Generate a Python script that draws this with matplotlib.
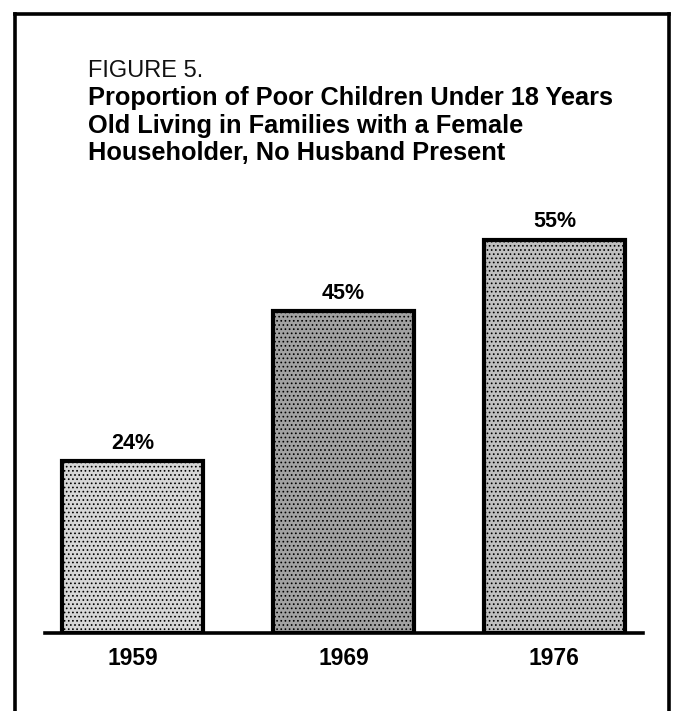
"""
Figure 5 - poor children in female-householder families
"""

import matplotlib.pyplot as plt
from matplotlib.lines import Line2D

plt.rcParams.update(
    {
        "font.family": ["Liberation Sans", "DejaVu Sans"],
        "figure.dpi": 100,
        "hatch.color": "#4a4a4a",
        "hatch.linewidth": 0.7,
    }
)

years = ["1959", "1969", "1976"]
shares = [24, 45, 55]
labels = ["24%", "45%", "55%"]
fills = ["#d6d6d6", "#a2a2a2", "#bfbfbf"]

W, H = 674, 711
fig = plt.figure(figsize=(W / 100, H / 100), facecolor="white")


def fx(px):
    return px / W


def fy(py):
    return 1 - py / H


# frame around the figure (open at the bottom)
for xs, ys in [((15, 669), (14, 14)), ((15, 15), (14, H)), ((669, 669), (14, H))]:
    fig.add_artist(Line2D([fx(x) for x in xs], [fy(y) for y in ys], color="black", lw=2.6,
                          solid_capstyle="projecting"))

fig.text(fx(88), fy(77), "FIGURE 5.", fontsize=17, color="#111111", va="baseline")
title_lines = [
    "Proportion of Poor Children Under 18 Years",
    "Old Living in Families with a Female",
    "Householder, No Husband Present",
]
for line, base in zip(title_lines, [105, 133, 160]):
    fig.text(fx(88), fy(base), line, fontsize=18.3, fontweight="bold", va="baseline")

ax = fig.add_axes([fx(45), fy(633), fx(643) - fx(45), fy(204) - fy(633)])
x = range(len(years))
ax.bar(x, shares, width=0.665, color=fills, edgecolor="black", linewidth=3,
       hatch="....", zorder=2)

for xi, v, lab in zip(x, shares, labels):
    ax.annotate(lab, (xi, v), textcoords="offset points", xytext=(0, 9), ha="center",
                va="baseline", fontsize=15.5, fontweight="bold")

ax.set_xlim(-0.415, 2.42)
ax.set_ylim(0, 60)
ax.set_xticks(list(x))
ax.set_xticklabels(years, fontsize=16.5, fontweight="bold")
ax.tick_params(axis="x", length=0, pad=10)
ax.set_yticks([])
for s in ["top", "right", "left"]:
    ax.spines[s].set_visible(False)
ax.spines["bottom"].set_linewidth(2.6)
ax.spines["bottom"].set_zorder(3)
ax.patch.set_alpha(0)

fig.savefig("out.png", dpi=100, facecolor="white")
plt.close(fig)
